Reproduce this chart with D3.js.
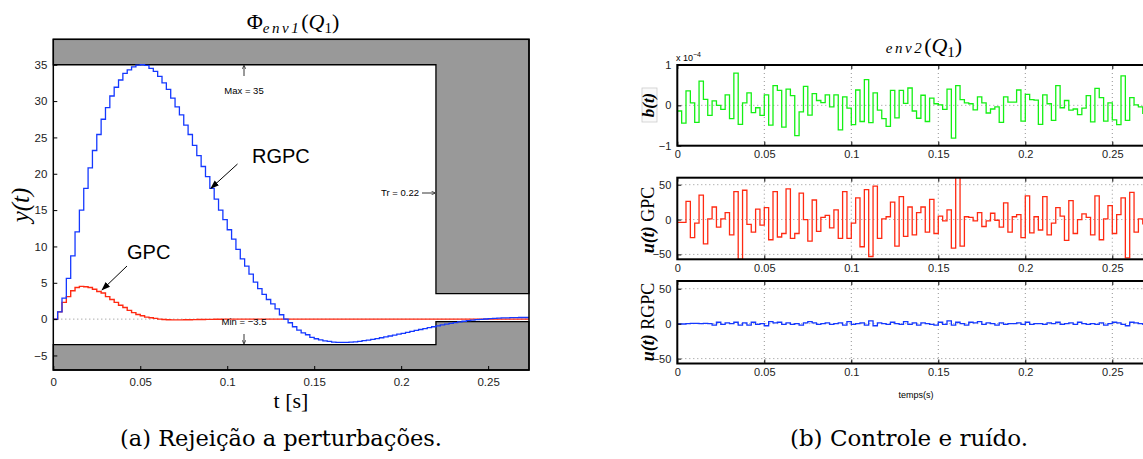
<!DOCTYPE html>
<head>
  <meta charset="utf-8">
  <script src="https://d3js.org/d3.v7.min.js"></script>
</head>
<style>
  body { margin: 0; background: #fff; }
  text { font-family: "Liberation Sans", Arial, sans-serif; }
  .serif { font-family: "Liberation Serif", "DejaVu Serif", serif; }
  .cap { font-family: "DejaVu Serif", "Liberation Serif", serif; }
</style>
<body>
<script>
// sample period of all series (s)
var Ts = 0.0025;

// left: disturbance rejection y(t)
var rgpc = [0, 1.0, 2.9, 5.6, 8.7, 12.0, 15.0, 18.0, 20.8, 23.2,
  25.4, 27.5, 29.1, 30.7, 31.9, 32.9, 33.8, 34.3, 34.7, 34.96,
  35.0, 34.9, 34.5, 34.1, 33.4, 32.5, 31.6, 30.4, 29.2, 28.1,
  26.7, 25.4, 23.9, 22.5, 21.0, 19.6, 18.0, 16.5, 15.0, 13.7,
  12.3, 11.0, 9.6, 8.3, 7.3, 6.2, 5.1, 4.2, 3.4, 2.7,
  2.1, 1.4, 0.6, 0, -0.5, -1.05, -1.5, -1.9, -2.15, -2.5,
  -2.7, -2.85, -3.0, -3.07, -3.16, -3.2, -3.2, -3.2, -3.16, -3.12,
  -3.05, -2.97, -2.88, -2.78, -2.67, -2.56, -2.44, -2.32, -2.2, -2.07,
  -1.95, -1.82, -1.69, -1.56, -1.43, -1.3, -1.17, -1.05, -0.92, -0.8,
  -0.69, -0.58, -0.48, -0.38, -0.29, -0.21, -0.14, -0.08, -0.03, 0.02,
  0.06, 0.1, 0.13, 0.16, 0.18, 0.2, 0.21, 0.22, 0.22, 0.22];

var gpc = [0, 1.0, 2.3, 3.1, 3.9, 4.35, 4.5, 4.45, 4.35, 4.1,
  3.8, 3.6, 3.1, 2.7, 2.3, 1.9, 1.6, 1.2, 0.9, 0.64,
  0.46, 0.27, 0.18, 0.1, 0, -0.05, -0.09, -0.1, -0.1, -0.1,
  -0.09, -0.08, -0.07, -0.06, -0.05, -0.04, -0.03, -0.02, -0.01, 0,
  0, 0, 0, 0, 0, 0, 0, 0, 0, 0,
  0, 0, 0, 0, 0, 0, 0, 0, 0, 0,
  0, 0, 0, 0, 0, 0, 0, 0, 0, 0,
  0, 0, 0, 0, 0, 0, 0, 0, 0, 0,
  0, 0, 0, 0, 0, 0, 0, 0, 0, 0,
  0, 0, 0, 0, 0, 0, 0, 0, 0, 0,
  0, 0, 0, 0, 0, 0, 0, 0, 0, 0];

// envelope limits
var maxVal = 35, minVal = -3.5, trTime = 0.22, upAfter = 3.5, lowAfter = -0.35;

// right: noise b(t) in units of 1e-4
var noise = [-0.14, -0.44, 0.36, 0.06, -0.42, 0.6, 0.15, -0.25, 0.11, 0,
  -0.1, 0.26, -0.33, 0.8, -0.47, 0.06, 0.31, -0.18, -0.06, -0.25,
  0.26, -0.49, 0.49, 0.37, -0.54, 0.4, 0.24, -0.75, -0.16, 0.47,
  -0.24, 0.29, 0.12, 0.07, 0.26, -0.04, 0.26, -0.61, 0.21, -0.07,
  -0.48, 0.38, -0.4, 0.64, -0.43, 0.31, -0.12, -0.33, -0.52, 0.37,
  -0.31, 0.37, 0.05, 0.43, -0.14, -0.32, 0.25, -0.4, 0.18, 0.04,
  0.01, -0.1, 0.4, -0.81, 0.49, 0.14, 0.06, 0.04, -0.11, 0.21,
  0.06, -0.19, -0.09, -0.04, -0.42, 0.21, 0.08, 0.08, 0.38, -0.39,
  0.27, 0.14, 0.13, -0.47, 0.26, 0.04, -0.37, 0.49, -0.06, 0.12,
  -0.12, -0.09, -0.23, -0.07, 0.24, -0.41, 0.42, 0.19, -0.39, 0.06,
  -0.36, -0.48, 0.73, -0.37, 0.19, 0.01, -0.04, -0.2, 0.3, -0.1];

// right: control u(t) GPC
var uGpc = [-4, -4, 26, -26, -5, 35, -35, 1, 18, -11,
  1, 10, -22, 40, -57, 42, -7, -18, 15, -8,
  17, -29, 40, -25, -20, 44, -27, -20, 38, 0,
  -31, 28, -17, 3, 6, -12, 14, -27, 40, -27,
  -5, 31, -39, 43, -53, 48, -27, 1, 4, 25,
  -38, 33, -24, 18, -22, 10, 18, -18, 29, -20,
  5, -2, 14, -41, 62, -38, 4, 3, -2, 10,
  -10, -2, 9, -1, -11, 24, -18, 4, 7, -26,
  34, -19, 4, -15, 33, -22, -5, 17, 5, -30,
  27, -20, 0, 8, 3, -22, 34, -29, 1, 20,
  -20, 7, 31, -55, 39, -18, 1, -6, 25, -10];

// right: control u(t) RGPC
var uRgpc = [-0.5, -0.5, 0, 0.5, 0.5, 0, 0.5, 0, -2, 2,
  -1, 1, 0, 2, -2, 1, -2, 2, -1, 0,
  -3, 3, 1, 2, -1, 1, -1, 0, -2, 1,
  3, 1, -1, 0, 1, -1, 0, 1, -2, 3,
  -1, 0, 1, -2, 4, -3, 1, 0, -1, 2,
  0, -1, 3, -1, 1, -2, 1, 0, -1, -2,
  2, -1, 4, -2, 2, 0, -2, 2, 1, 3,
  -1, 1, 0, -2, 1, -1, 0, 0, 1, -1,
  2, -1, 0, 0, -1, 1, 0, 2, -1, 0,
  1, -1, 2, 0, -1, 0, -1, 1, -2, 0,
  2, 1, -1, -3, 2, 1, 0, -1, 1, 0];

var xTicks = [0, 0.05, 0.1, 0.15, 0.2, 0.25],
    xTickLabels = ["0", "0.05", "0.1", "0.15", "0.2", "0.25"],
    yTicksL = [-5, 0, 5, 10, 15, 20, 25, 30, 35],
    yTicksB = [-1, 0, 1],
    yTicksU = [-50, 0, 50];

var colBlue = "#1438ff", colRed = "#ff2a12", colGreen = "#14f014", gray = "#999999";

var width = 1143, height = 459;

var svg = d3.select("body").append("svg")
    .attr("width", width)
    .attr("height", height);

var defs = svg.append("defs");
defs.append("marker")
    .attr("id", "head")
    .attr("viewBox", "0 0 10 10")
    .attr("refX", 9).attr("refY", 5)
    .attr("markerWidth", 9).attr("markerHeight", 9)
    .attr("markerUnits", "userSpaceOnUse")
    .attr("orient", "auto")
  .append("path")
    .attr("d", "M0,1.5 L10,5 L0,8.5 Z")
    .attr("fill", "#000");
defs.append("marker")
    .attr("id", "small")
    .attr("viewBox", "0 0 10 10")
    .attr("refX", 9).attr("refY", 5)
    .attr("markerWidth", 4).attr("markerHeight", 4)
    .attr("markerUnits", "userSpaceOnUse")
    .attr("orient", "auto")
  .append("path")
    .attr("d", "M0,0 L10,5 L0,10")
    .attr("fill", "none").attr("stroke", "#000").attr("stroke-width", 1.5);

function steps(vals) {
  var pts = vals.map(function(v, i) { return [i * Ts, v]; });
  pts.push([vals.length * Ts, vals[vals.length - 1]]);
  return pts;
}

// ---------------- left plot ----------------
var xL = d3.scaleLinear().domain([0, 0.2735]).range([53.3, 529]);
var yL = d3.scaleLinear().domain([-7, 38.5]).range([370, 39.3]);

var left = svg.append("g");

defs.append("clipPath").attr("id", "clipL")
  .append("rect").attr("x", xL(0)).attr("y", yL(38.5))
  .attr("width", xL(0.2735) - xL(0)).attr("height", yL(-7) - yL(38.5));

var poly = d3.line().x(function(d) { return xL(d[0]); }).y(function(d) { return yL(d[1]); });

left.append("path")
    .attr("d", poly([[0, 38.5], [0.2735, 38.5], [0.2735, upAfter], [trTime, upAfter], [trTime, maxVal], [0, maxVal]]) + "Z")
    .attr("fill", gray).attr("stroke", "#000").attr("stroke-width", 1.3);
left.append("path")
    .attr("d", poly([[0, minVal], [trTime, minVal], [trTime, lowAfter], [0.2735, lowAfter], [0.2735, -7], [0, -7]]) + "Z")
    .attr("fill", gray).attr("stroke", "#000").attr("stroke-width", 1.3);

// zero reference
left.append("line")
    .attr("x1", xL(0)).attr("x2", xL(0.2735))
    .attr("y1", yL(0)).attr("y2", yL(0))
    .attr("stroke", "#888").attr("stroke-dasharray", "1,3");

var stepL = d3.line().curve(d3.curveStepAfter)
    .x(function(d) { return xL(d[0]); }).y(function(d) { return yL(d[1]); });

var plotL = left.append("g").attr("clip-path", "url(#clipL)");
plotL.append("path").attr("d", stepL(steps(gpc)))
    .attr("fill", "none").attr("stroke", colRed).attr("stroke-width", 1.4);
plotL.append("path").attr("d", stepL(steps(rgpc)))
    .attr("fill", "none").attr("stroke", colBlue).attr("stroke-width", 1.3);

// box and axes
left.append("rect")
    .attr("x", xL(0)).attr("y", yL(38.5))
    .attr("width", xL(0.2735) - xL(0)).attr("height", yL(-7) - yL(38.5))
    .attr("fill", "none").attr("stroke", "#000").attr("stroke-width", 1.5);

var axL = left.append("g").attr("transform", "translate(" + xL(0) + ",0)")
    .call(d3.axisLeft(yL).tickValues(yTicksL).tickSize(-4).tickPadding(6)
      .tickFormat(function(d) { return d < 0 ? "\u2212" + Math.abs(d) : d; }));
axL.select(".domain").remove();
axL.selectAll("text").attr("font-size", 11.5).attr("fill", "#222")
    .style("font-family", "Liberation Sans, Arial, sans-serif");

var axB = left.append("g").attr("transform", "translate(0," + yL(-7) + ")")
    .call(d3.axisBottom(xL).tickValues(xTicks).tickSize(-4).tickPadding(8)
      .tickFormat(function(d, i) { return xTickLabels[i]; }));
axB.select(".domain").remove();
axB.selectAll("text").attr("font-size", 11.5).attr("fill", "#222")
    .style("font-family", "Liberation Sans, Arial, sans-serif");

// title
var tl = left.append("text").attr("class", "serif")
    .attr("x", 293).attr("y", 29).attr("text-anchor", "middle")
    .attr("font-size", 22);
tl.append("tspan").text("\u03A6");
tl.append("tspan").attr("font-style", "italic").attr("font-size", 15)
    .attr("letter-spacing", 2.5).attr("dy", 4).text("env1");
tl.append("tspan").attr("dy", -4).text("(");
tl.append("tspan").attr("font-style", "italic").text("Q");
tl.append("tspan").attr("font-size", 15).attr("dy", 4).text("1");
tl.append("tspan").attr("dy", -4).text(")");

left.append("text").attr("class", "serif")
    .attr("x", 291).attr("y", 408).attr("text-anchor", "middle")
    .attr("font-size", 22).text("t [s]");

left.append("text").attr("class", "serif")
    .attr("transform", "translate(29,205) rotate(-90)")
    .attr("text-anchor", "middle").attr("font-size", 25)
    .attr("font-style", "italic").text("y(t)");

// annotations
left.append("text").attr("x", 244).attr("y", 94).attr("text-anchor", "middle")
    .attr("font-size", 9.5).text("Max = 35");
left.append("line").attr("x1", 244).attr("x2", 244).attr("y1", 76).attr("y2", yL(maxVal) + 1)
    .attr("stroke", "#000").attr("stroke-width", 0.8).attr("marker-end", "url(#small)");

left.append("text").attr("x", 419).attr("y", 196).attr("text-anchor", "end")
    .attr("font-size", 9.5).text("Tr = 0.22");
left.append("line").attr("x1", 422).attr("x2", xL(trTime) - 1).attr("y1", 193).attr("y2", 193)
    .attr("stroke", "#000").attr("stroke-width", 0.8).attr("marker-end", "url(#small)");

left.append("text").attr("x", 244).attr("y", 325).attr("text-anchor", "middle")
    .attr("font-size", 9.5).text("Min = \u22123.5");
left.append("line").attr("x1", 244).attr("x2", 244).attr("y1", 334).attr("y2", yL(minVal) - 1)
    .attr("stroke", "#000").attr("stroke-width", 0.8).attr("marker-end", "url(#small)");

left.append("text").attr("x", 252).attr("y", 163)
    .attr("font-size", 20).text("RGPC");
left.append("line").attr("x1", 237.5).attr("y1", 164).attr("x2", xL(36 * Ts) + 1).attr("y2", yL(18))
    .attr("stroke", "#000").attr("stroke-width", 1).attr("marker-end", "url(#head)");

left.append("text").attr("x", 127).attr("y", 259)
    .attr("font-size", 20).text("GPC");
left.append("line").attr("x1", 127).attr("y1", 266).attr("x2", 102).attr("y2", 290)
    .attr("stroke", "#000").attr("stroke-width", 1).attr("marker-end", "url(#head)");

svg.append("text").attr("class", "cap")
    .attr("x", 281).attr("y", 446).attr("text-anchor", "middle")
    .attr("font-size", 22.5).text("(a) Rejei\u00e7\u00e3o a perturba\u00e7\u00f5es.");

// ---------------- right panels ----------------
var xR = d3.scaleLinear().domain([0, 0.275]).range([677.3, 677.3 + 0.275 * 1740]);

var panels = [
  { id: "pb", vals: noise, domain: [-1, 1], top: 65, bottom: 145.7, color: colGreen, ticks: yTicksB, grid: [0] },
  { id: "pg", vals: uGpc, domain: [-57, 60], top: 177.7, bottom: 259.3, color: colRed, ticks: yTicksU, grid: yTicksU },
  { id: "pr", vals: uRgpc, domain: [-57, 61], top: 281, bottom: 363.5, color: colBlue, ticks: yTicksU, grid: yTicksU }
];

panels.forEach(function(p) {
  var y = d3.scaleLinear().domain(p.domain).range([p.bottom, p.top]);
  var g = svg.append("g");
  var x1 = xR(0.275);

  defs.append("clipPath").attr("id", "clip" + p.id)
    .append("rect").attr("x", xR(0)).attr("y", p.top)
    .attr("width", x1 - xR(0)).attr("height", p.bottom - p.top);

  // grid
  g.selectAll(".vg").data(xTicks.slice(1)).enter().append("line")
      .attr("x1", function(d) { return xR(d); }).attr("x2", function(d) { return xR(d); })
      .attr("y1", p.top).attr("y2", p.bottom)
      .attr("stroke", "#777").attr("stroke-width", 0.8).attr("stroke-dasharray", "1,3");
  g.selectAll(".hg").data(p.grid).enter().append("line")
      .attr("x1", xR(0)).attr("x2", x1)
      .attr("y1", function(d) { return y(d); }).attr("y2", function(d) { return y(d); })
      .attr("stroke", "#777").attr("stroke-width", 0.8).attr("stroke-dasharray", "1,3");

  var line = d3.line().curve(d3.curveStepAfter)
      .x(function(d) { return xR(d[0]); }).y(function(d) { return y(d[1]); });
  g.append("g").attr("clip-path", "url(#clip" + p.id + ")")
    .append("path").attr("d", line(steps(p.vals)))
      .attr("fill", "none").attr("stroke", p.color).attr("stroke-width", 1.3);

  g.append("rect").attr("x", xR(0)).attr("y", p.top)
      .attr("width", x1 - xR(0)).attr("height", p.bottom - p.top)
      .attr("fill", "none").attr("stroke", "#000").attr("stroke-width", 2);

  var ay = g.append("g").attr("transform", "translate(" + xR(0) + ",0)")
      .call(d3.axisLeft(y).tickValues(p.ticks).tickSize(-4).tickPadding(6)
        .tickFormat(function(d) { return d < 0 ? "\u2212" + Math.abs(d) : d; }));
  ay.select(".domain").remove();
  ay.selectAll("text").attr("font-size", 11).attr("fill", "#222");

  var ax = g.append("g").attr("transform", "translate(0," + p.bottom + ")")
      .call(d3.axisBottom(xR).tickValues(xTicks).tickSize(-4).tickPadding(5)
        .tickFormat(function(d, i) { return xTickLabels[i]; }));
  ax.select(".domain").remove();
  ax.selectAll("text").attr("font-size", 11).attr("fill", "#222");
  var axT = g.append("g").attr("transform", "translate(0," + p.top + ")")
      .call(d3.axisTop(xR).tickValues(xTicks).tickSize(-4).tickFormat(""));
  axT.select(".domain").remove();
});

// right labels
var tr = svg.append("text").attr("class", "serif")
    .attr("x", 924).attr("y", 53).attr("text-anchor", "middle").attr("font-size", 22);
tr.append("tspan").attr("font-style", "italic").attr("font-size", 15)
    .attr("letter-spacing", 2.5).text("env2");
tr.append("tspan").text("(");
tr.append("tspan").attr("font-style", "italic").text("Q");
tr.append("tspan").attr("font-size", 15).attr("dy", 4).text("1");
tr.append("tspan").attr("dy", -4).text(")");

var sc = svg.append("text").attr("x", 676).attr("y", 61).attr("font-size", 9);
sc.append("tspan").text("x 10");
sc.append("tspan").attr("font-size", 7).attr("dy", -4).text("\u22124");

svg.append("rect").attr("x", 642).attr("y", 88).attr("width", 15).attr("height", 34)
    .attr("fill", "#fafafa").attr("stroke", "#ccc").attr("stroke-width", 0.8);
svg.append("text").attr("class", "serif")
    .attr("transform", "translate(654,105) rotate(-90)").attr("text-anchor", "middle")
    .attr("font-size", 17).attr("font-weight", "bold").attr("font-style", "italic").text("b(t)");

var lg = svg.append("text").attr("class", "serif")
    .attr("transform", "translate(654,220) rotate(-90)").attr("text-anchor", "middle")
    .attr("font-size", 18);
lg.append("tspan").attr("font-weight", "bold").attr("font-style", "italic").text("u(t)");
lg.append("tspan").text(" GPC");

var lr = svg.append("text").attr("class", "serif")
    .attr("transform", "translate(654,322) rotate(-90)").attr("text-anchor", "middle")
    .attr("font-size", 18);
lr.append("tspan").attr("font-weight", "bold").attr("font-style", "italic").text("u(t)");
lr.append("tspan").text(" RGPC");

svg.append("text").attr("x", 916).attr("y", 398).attr("text-anchor", "middle")
    .attr("font-size", 9).text("temps(s)");

svg.append("text").attr("class", "cap")
    .attr("x", 909).attr("y", 446).attr("text-anchor", "middle")
    .attr("font-size", 23).text("(b) Controle e ru\u00eddo.");
</script>
</body>
